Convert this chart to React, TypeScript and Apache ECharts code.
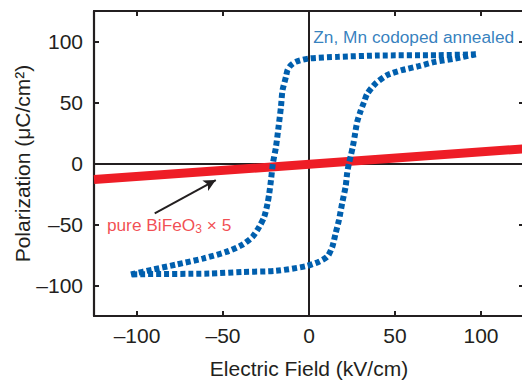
import React, { useEffect, useRef } from "react";
import * as echarts from "echarts";

const xTicks = [-100, -50, 0, 50, 100];
const yTicks = [-100, -50, 0, 50, 100];

// Zn, Mn codoped annealed loop: upper branch (descending field), then lower branch (ascending)
const loopUpper: [number, number][] = [
  [97, 89.5], [75, 88.8], [40, 88.5], [17, 87.4], [0, 86.1], [-7.6, 83.4], [-10.5, 80.6],
  [-12.5, 76.5], [-13.4, 71], [-15.4, 60], [-16.3, 46.4], [-17.7, 30], [-19.2, 13.6],
  [-21, 0], [-22.1, -13.6], [-23.1, -24.5], [-24.1, -32.8], [-26, -43.6], [-28.9, -51.8],
  [-32.8, -60], [-38.6, -66.5], [-48.2, -72.5], [-61.7, -77.9], [-77.1, -82.8],
  [-90.7, -86.9], [-104, -91],
];
const loopLower: [number, number][] = [
  [-96, -90.7], [-57.8, -90.2], [-38.6, -88.9], [-19.2, -88], [-1.9, -84.2], [5.8, -80.5],
  [10.7, -76.3], [13.6, -68], [15.5, -57], [17.4, -46.5], [19.3, -32.4], [21.3, -18.8],
  [22.2, -7.8], [23.2, 0], [24.2, 5.8], [25.5, 14], [26.7, 23.6], [28, 34], [30, 43],
  [31.9, 50], [33.8, 57], [38.7, 65.6], [45.4, 72.4], [54, 76.5], [63.8, 79.8],
  [73.4, 83.3], [85, 86.1], [97, 89.5],
];
// pure BiFeO3 x 5
const bfoLine: [number, number][] = [[-125, -13.2], [125, 12]];

const arrowFrom: [number, number] = [-89.7, -40.8];
const arrowTo: [number, number] = [-54.2, -13.6];
const labelBlueAt: [number, number] = [2.5, 103.3];
const labelRedAt: [number, number] = [-117.5, -50];

const FONT = "Liberation Sans, Arial, Helvetica, sans-serif";
const BLUE = "#005fae";
const RED = "#ee1d26";
const INK = "#231f20";

const fmt = (v: number) => String(v).replace("-", "\u2013");

export default function App() {
  const ref = useRef<HTMLDivElement>(null);
  useEffect(() => {
    if (!ref.current) return;
    const chart = echarts.init(ref.current, null, { renderer: "svg" });
    const axisLine = { show: true, onZero: false, lineStyle: { color: INK, width: 2.2 } };
    const tick = { show: true, inside: true, length: 5, lineStyle: { color: INK, width: 2 }, customValues: xTicks };
    chart.setOption({
      animation: false,
      backgroundColor: "#fff",
      grid: { left: 94, top: 11, width: 430, height: 305, containLabel: false, outerBoundsMode: "none" },
      xAxis: [
        {
          type: "value", min: -125, max: 125, position: "bottom",
          axisLine, axisTick: tick, splitLine: { show: false },
          axisLabel: { customValues: xTicks, formatter: fmt, fontSize: 21, color: INK, fontFamily: FONT, margin: 9 },
          name: "Electric Field (kV/cm)", nameLocation: "middle", nameGap: 42, nameMoveOverlap: false,
          nameTextStyle: { fontSize: 21, color: INK, fontFamily: FONT },
        },
        {
          type: "value", min: -125, max: 125, position: "top",
          axisLine, axisTick: tick, splitLine: { show: false }, axisLabel: { show: false },
        },
      ],
      yAxis: [
        {
          type: "value", min: -125, max: 125, position: "left",
          axisLine, axisTick: { ...tick, customValues: yTicks }, splitLine: { show: false },
          axisLabel: { customValues: yTicks, formatter: fmt, fontSize: 21, color: INK, fontFamily: FONT, margin: 11 },
          name: "Polarization (\u03bcC/cm\u00b2)", nameLocation: "middle", nameGap: 61, nameMoveOverlap: false,
          nameTextStyle: { fontSize: 21, color: INK, fontFamily: FONT },
        },
        {
          type: "value", min: -125, max: 125, position: "right",
          axisLine, axisTick: { ...tick, customValues: yTicks }, splitLine: { show: false }, axisLabel: { show: false },
        },
      ],
      series: [
        {
          type: "line", data: [], silent: true,
          markLine: {
            z: 1, silent: true, symbol: ["none", "none"], label: { show: false },
            lineStyle: { color: INK, width: 2, type: "solid" },
            data: [{ xAxis: 0 }, { yAxis: 0 }],
          },
        },
        {
          type: "line", data: bfoLine, showSymbol: false, symbol: "none", z: 3, silent: true,
          lineStyle: { color: RED, width: 9 },
        },
        {
          type: "line", data: [...loopUpper, ...loopLower], showSymbol: false, symbol: "none", z: 4, silent: true,
          smooth: 0.25,
          lineStyle: { color: BLUE, width: 6, type: [5, 3] },
        },
        {
          type: "scatter", symbolSize: 0, silent: true, z: 5,
          data: [{ value: labelBlueAt }],
          label: {
            show: true, position: "right", distance: 0, formatter: "Zn, Mn codoped annealed",
            color: BLUE, fontSize: 17.3, fontFamily: FONT,
          },
        },
        {
          type: "scatter", symbolSize: 0, silent: true, z: 5,
          data: [{ value: labelRedAt }],
          label: {
            show: true, position: "right", distance: 0,
            formatter: "{a|pure BiFeO}{s|3}{a| \u00d7 5}",
            rich: {
              a: { color: RED, fontSize: 17.3, fontFamily: FONT },
              s: { color: RED, fontSize: 12, fontFamily: FONT, verticalAlign: "bottom", padding: [8, 0, 0, 0] },
            },
          },
          markLine: {
            z: 5, silent: true, symbol: ["none", "arrow"], symbolSize: [9, 12], label: { show: false },
            lineStyle: { color: INK, width: 2, type: "solid" },
            data: [[{ coord: arrowFrom }, { coord: arrowTo }]],
          },
        },
      ],
    });
    return () => chart.dispose();
  }, []);
  return (
    <div
      ref={ref}
      style={{ position: "fixed", left: 0, top: 0, width: 522, height: 381, background: "#fff" }}
    />
  );
}
